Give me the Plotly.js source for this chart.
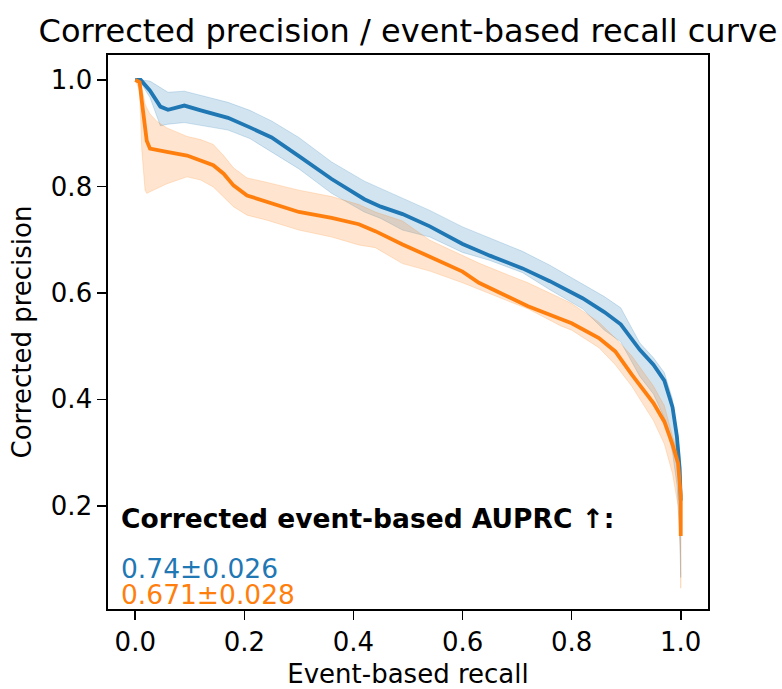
<!DOCTYPE html>
<html>
<head>
<meta charset="utf-8">
<script src="https://cdn.plot.ly/plotly-3.0.1.min.js"></script>
<style>
  html, body { margin: 0; padding: 0; background: #fff; }
  #chart { width: 782px; height: 689px; }
</style>
</head>
<body>
<div id="chart"></div>
<script>
// ---- Data ----
const blueRecall = [0, 0.01, 0.027, 0.046, 0.06, 0.09, 0.12, 0.17, 0.21, 0.25, 0.3, 0.36, 0.42, 0.45, 0.49, 0.54, 0.6, 0.65, 0.71, 0.76, 0.82, 0.86, 0.89, 0.925, 0.95, 0.97, 0.985, 0.993, 0.998, 1.0];
const blueMean   = [1.0, 1.0, 0.980, 0.950, 0.944, 0.952, 0.943, 0.929, 0.911, 0.892, 0.857, 0.814, 0.776, 0.762, 0.748, 0.725, 0.692, 0.670, 0.646, 0.622, 0.590, 0.564, 0.541, 0.493, 0.465, 0.435, 0.385, 0.33, 0.27, 0.21];
const blueUpper  = [1.0, 1.0, 0.998, 0.985, 0.977, 0.979, 0.971, 0.958, 0.943, 0.923, 0.892, 0.846, 0.810, 0.796, 0.778, 0.755, 0.724, 0.703, 0.678, 0.652, 0.616, 0.593, 0.572, 0.506, 0.478, 0.450, 0.40, 0.34, 0.30, 0.27];
const blueLower  = [1.0, 0.995, 0.967, 0.914, 0.917, 0.920, 0.914, 0.906, 0.890, 0.865, 0.833, 0.787, 0.752, 0.740, 0.718, 0.705, 0.676, 0.661, 0.638, 0.606, 0.570, 0.530, 0.508, 0.443, 0.410, 0.365, 0.30, 0.24, 0.15, 0.065];

const orangeRecall = [0, 0.008, 0.012, 0.015, 0.018, 0.021, 0.027, 0.04, 0.058, 0.095, 0.12, 0.143, 0.162, 0.18, 0.205, 0.24, 0.3, 0.36, 0.41, 0.44, 0.49, 0.54, 0.6, 0.63, 0.69, 0.72, 0.78, 0.8, 0.85, 0.88, 0.91, 0.95, 0.97, 0.985, 0.995, 1.0, 1.0];
const orangeMean   = [1.0, 0.996, 0.96, 0.930, 0.905, 0.886, 0.871, 0.868, 0.865, 0.858, 0.849, 0.840, 0.824, 0.802, 0.783, 0.771, 0.752, 0.741, 0.729, 0.716, 0.691, 0.668, 0.640, 0.619, 0.590, 0.575, 0.551, 0.543, 0.515, 0.490, 0.447, 0.393, 0.358, 0.315, 0.28, 0.22, 0.143];
const orangeUpper  = [1.0, 1.0, 0.985, 0.967, 0.955, 0.948, 0.936, 0.922, 0.910, 0.894, 0.888, 0.879, 0.858, 0.835, 0.816, 0.808, 0.793, 0.781, 0.766, 0.752, 0.735, 0.699, 0.670, 0.656, 0.631, 0.619, 0.590, 0.580, 0.545, 0.515, 0.482, 0.425, 0.388, 0.33, 0.30, 0.25, 0.25];
const orangeLower  = [1.0, 0.98, 0.868, 0.83, 0.793, 0.787, 0.789, 0.796, 0.805, 0.818, 0.812, 0.799, 0.780, 0.762, 0.746, 0.737, 0.718, 0.705, 0.690, 0.685, 0.655, 0.641, 0.619, 0.607, 0.582, 0.570, 0.538, 0.530, 0.497, 0.465, 0.425, 0.360, 0.316, 0.26, 0.20, 0.10, 0.045];

const xTicks = [0.0, 0.2, 0.4, 0.6, 0.8, 1.0];
const yTicks = [0.2, 0.4, 0.6, 0.8, 1.0];
const scoreLabels = ["0.74±0.026", "0.671±0.028"];

// ---- Styling ----
const BLUE = "#1f77b4", ORANGE = "#ff7f0e";
const FONT = "DejaVu Sans, Liberation Sans, sans-serif";

function band(x, up, lo, rgba) {
  return {
    x: x.concat(x.slice().reverse()),
    y: up.concat(lo.slice().reverse()),
    type: "scatter", mode: "lines", fill: "toself",
    fillcolor: rgba.replace("A", "0.2"),
    line: { color: rgba.replace("A", "0.2"), width: 1 },
    hoverinfo: "skip", showlegend: false
  };
}

const traces = [
  band(blueRecall, blueUpper, blueLower, "rgba(31,119,180,A)"),
  { x: blueRecall, y: blueMean, type: "scatter", mode: "lines", line: { color: BLUE, width: 3.8 }, showlegend: false },
  band(orangeRecall, orangeUpper, orangeLower, "rgba(255,127,14,A)"),
  { x: orangeRecall, y: orangeMean, type: "scatter", mode: "lines", line: { color: ORANGE, width: 3.8 }, showlegend: false }
];

const axisCommon = {
  showgrid: false, zeroline: false,
  showline: true, mirror: true, linecolor: "#000", linewidth: 1.6,
  ticks: "outside", ticklen: 9, tickwidth: 1.6, tickcolor: "#000",
  tickfont: { family: FONT, size: 26, color: "#000" },
  tickformat: ".1f"
};

const layout = {
  width: 782, height: 689,
  margin: { l: 108, r: 74, t: 55, b: 80 },
  paper_bgcolor: "#fff", plot_bgcolor: "#fff",
  font: { family: FONT, color: "#000" },
  title: { text: "Corrected precision / event-based recall curve", font: { family: FONT, size: 32, color: "#000" },
           x: 0.5, xref: "paper", xanchor: "center", y: 0.956, yref: "container", yanchor: "middle" },
  xaxis: Object.assign({}, axisCommon, {
    range: [-0.05, 1.05], tickvals: xTicks,
    title: { text: "Event-based recall", font: { family: FONT, size: 26, color: "#000" }, standoff: 14 }
  }),
  yaxis: Object.assign({}, axisCommon, {
    range: [0.006, 1.047], tickvals: yTicks,
    title: { text: "Corrected precision", font: { family: FONT, size: 26, color: "#000" }, standoff: 12 }
  }),
  annotations: [
    { text: "<b>Corrected event-based AUPRC ↑:</b>", xref: "paper", yref: "paper", x: 0.018, y: 0.164,
      xanchor: "left", yanchor: "middle", showarrow: false, font: { family: FONT, size: 26.5, color: "#000" } },
    { text: scoreLabels[0], xref: "paper", yref: "paper", x: 0.018, y: 0.073,
      xanchor: "left", yanchor: "middle", showarrow: false, font: { family: FONT, size: 26.5, color: BLUE } },
    { text: scoreLabels[1], xref: "paper", yref: "paper", x: 0.018, y: 0.027,
      xanchor: "left", yanchor: "middle", showarrow: false, font: { family: FONT, size: 26.5, color: ORANGE } }
  ]
};

Plotly.newPlot("chart", traces, layout, { displayModeBar: false, staticPlot: true });
</script>
</body>
</html>
